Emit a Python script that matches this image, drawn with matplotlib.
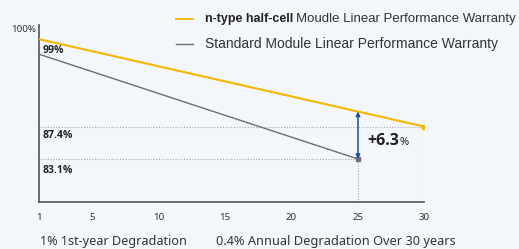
import matplotlib.pyplot as plt

years_ntype = [1, 30]
ntype_vals = [99.0, 87.4]
years_std = [1, 25]
std_vals = [97.0, 83.1]
xticks = [1, 5, 10, 15, 20, 25, 30]
gap_year = 25
gap_top = 89.4

yellow = "#f6b600"
gray = "#6e6e6e"
dot = "#a8a8a8"
bg = "#f3f6fb"
txt = "#333333"

fig = plt.figure(figsize=(5.19, 2.49), dpi=100, facecolor=bg)
ax = fig.add_axes([0.0757, 0.189, 0.742, 0.711], facecolor=bg)

ax.plot(years_ntype, ntype_vals, color=yellow, lw=1.5, zorder=3)
ax.plot(years_std, std_vals, color=gray, lw=1.0, zorder=3)
ax.plot(years_ntype[-1], ntype_vals[-1], "s", color=yellow, ms=3, zorder=4)
ax.plot(years_std[-1], std_vals[-1], "s", color=gray, ms=3, zorder=4)

# dotted guide lines
ax.plot([1, years_ntype[-1], years_ntype[-1]], [ntype_vals[-1], ntype_vals[-1], 77.4],
        ls=(0, (1, 1.5)), color=dot, lw=0.8, zorder=2)
ax.plot([1, years_std[-1], years_std[-1]], [std_vals[-1], std_vals[-1], 77.4],
        ls=(0, (1, 1.5)), color=dot, lw=0.8, zorder=2)

ax.annotate("", xy=(gap_year, gap_top), xytext=(gap_year, std_vals[-1]),
            arrowprops=dict(arrowstyle="<|-|>", color="#1d4f9c", lw=1.1,
                            mutation_scale=6, shrinkA=0, shrinkB=0), zorder=5)

gap_txt = ax.text(25.7, 85.0, "+6.3", fontsize=11.5, fontweight="bold", color="#222222",
                  va="baseline", ha="left", family="Open Sans")

for v, y in [("99%", 97.55), ("87.4%", 86.2), ("83.1%", 81.55)]:
    ax.text(1.25, y, v, fontsize=7.5, fontweight="bold", color="#222222",
            va="center", ha="left", family="Open Sans")

ax.set_xlim(1, 30)
ax.set_ylim(77.4, 100.9)
ax.set_xticks(xticks)
ax.set_xticklabels([str(t) for t in xticks], fontsize=7, color=txt, family="Noto Sans")
ax.tick_params(axis="x", length=0, pad=8)
ax.set_yticks([])
for s in ["top", "right"]:
    ax.spines[s].set_visible(False)
for s in ["left", "bottom"]:
    ax.spines[s].set_color("#555555")
    ax.spines[s].set_linewidth(1.2)

fig.text(0.069, 0.883, "100%", fontsize=7, color=txt, ha="right", va="center",
         family="Noto Sans")

# legend drawn by hand
fig.add_artist(plt.Line2D([0.339, 0.372], [0.924, 0.924], color=yellow, lw=1.3))
fig.add_artist(plt.Line2D([0.339, 0.372], [0.823, 0.823], color=gray, lw=1.0))
t1 = fig.text(0.395, 0.924, "n-type half-cell", fontsize=9, fontweight="bold",
              color="#222222", va="center", family="Liberation Sans")
fig.text(0.395, 0.823, "Standard Module Linear Performance Warranty", fontsize=10,
         color="#333333", va="center", family="Liberation Sans")

fig.canvas.draw()
bb = t1.get_window_extent()
fig.text(bb.x1 / 519 + 0.006, 0.924, "Moudle Linear Performance Warranty", fontsize=9.5,
         color="#333333", va="center", family="Liberation Sans")
gb = gap_txt.get_window_extent()
ax.text(0, 85.0, "%", fontsize=8, color="#222222", va="baseline", ha="left",
        family="Noto Sans",
        transform=ax.get_yaxis_transform() + plt.matplotlib.transforms.ScaledTranslation(
            (gb.x1 - ax.bbox.x0) / 100 + 0.005, 0, fig.dpi_scale_trans))

fig.text(0.077, 0.032, "1% 1st-year Degradation", fontsize=9.1, color=txt,
         va="center", family="Noto Sans")
fig.text(0.416, 0.032, "0.4% Annual Degradation Over 30 years", fontsize=9.2,
         color=txt, va="center", family="Noto Sans")

fig.savefig("out.png", dpi=100, facecolor=bg)
